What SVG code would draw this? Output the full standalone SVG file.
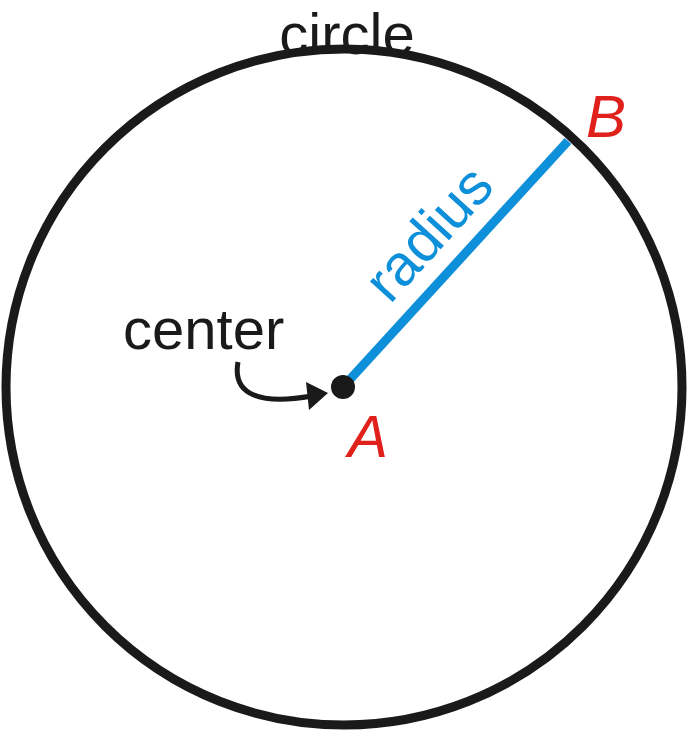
<svg xmlns="http://www.w3.org/2000/svg" width="687" height="732" viewBox="0 0 687 732">
<style>
.t{font-family:"Liberation Sans",Arial,sans-serif;font-size:58px;fill:#1a1a1a}
.r{font-family:"Liberation Sans",Arial,sans-serif;font-style:italic;font-size:60px;fill:#e0201b}
</style>
<defs><marker id="ah" markerWidth="10" markerHeight="10" refX="6" refY="5" orient="auto" markerUnits="userSpaceOnUse" viewBox="0 0 10 10"><path d="M0,0 L10,5 L0,10 Z" fill="#1a1a1a"/></marker></defs>
<g id="circle"><circle cx="344" cy="387" r="338" fill="none" stroke="#1a1a1a" stroke-width="9"/>
<text class="t" x="347" y="54" text-anchor="middle">circle</text></g>
<g id="connectors">
<line x1="343" y1="387" x2="568" y2="141" stroke="#0d8fd9" stroke-width="9"/>
<path d="M238,362 C232,395 260,405 312,396" fill="none" stroke="#1a1a1a" stroke-width="5"/>
<path d="M306,382 L328,393 L309,410 Z" fill="#1a1a1a"/>
</g>
<g id="radius"><text class="t" fill="#0d8fd9" style="fill:#0d8fd9" transform="translate(390,305) rotate(-47.7)">radius</text></g>
<g id="A"><circle cx="343" cy="387" r="12" fill="#1a1a1a"/><text class="r" x="348" y="457">A</text></g>
<g id="B"><text class="r" x="586" y="137">B</text></g>
<g id="center"><text class="t" x="123" y="349">center</text></g>
</svg>
